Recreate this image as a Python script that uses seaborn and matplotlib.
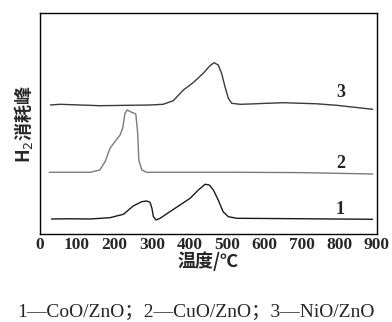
import numpy as np
import pandas as pd
import matplotlib
matplotlib.use("Agg")
import matplotlib.pyplot as plt
import seaborn as sns

# Curve 1: CoO/ZnO
t1 = [32, 80, 135, 188, 224, 250, 273, 286, 295, 300, 304, 311, 322, 348, 375, 402, 424, 442, 453, 464, 477, 490, 504, 526, 606, 784, 889]
y1 = [15.3, 15.5, 15.3, 16.6, 20.0, 28.3, 32.6, 33.3, 32.0, 26.0, 17.6, 14.3, 16.0, 22.6, 29.3, 36.0, 44.3, 50.0, 49.3, 44.3, 34.3, 22.6, 17.6, 16.0, 15.8, 15.3, 15.0]
# Curve 2: CuO/ZnO
t2 = [26, 80, 135, 161, 175, 188, 201, 215, 222, 228, 234, 246, 257, 262, 265, 273, 286, 322, 517, 695, 889]
y2 = [62.0, 62.0, 62.0, 64.3, 72.6, 86.0, 92.6, 99.3, 106.0, 121.0, 124.3, 122.0, 120.3, 101.0, 74.3, 64.3, 62.0, 62.0, 62.0, 61.7, 60.3]
# Curve 3: NiO/ZnO
t3 = [29, 55, 161, 295, 330, 357, 384, 410, 437, 455, 466, 477, 486, 495, 504, 513, 535, 562, 606, 651, 740, 793, 889]
y3 = [129.3, 130.0, 128.6, 129.3, 130.0, 133.6, 144.3, 151.6, 161.0, 168.6, 171.6, 169.3, 161.0, 147.6, 136.0, 131.0, 130.0, 130.3, 131.0, 131.6, 130.5, 129.0, 125.0]

curve_labels = ["1", "2", "3"]
label_y = [25, 71, 142]
xticks = [0, 100, 200, 300, 400, 500, 600, 700, 800, 900]
caption = "1—CoO/ZnO；2—CuO/ZnO；3—NiO/ZnO"

df = pd.concat([
    pd.DataFrame({"T": t1, "v": y1, "s": "1"}),
    pd.DataFrame({"T": t2, "v": y2, "s": "2"}),
    pd.DataFrame({"T": t3, "v": y3, "s": "3"}),
])

sns.set_theme(style="white")
plt.rcParams["font.family"] = ["Liberation Serif", "Noto Sans CJK SC", "DejaVu Sans"]

fig = plt.figure(figsize=(3.92, 3.22), dpi=100)
ax = fig.add_axes([0.1008, 0.2724, 0.8602, 0.6863])

pal = {"1": "#1a1a1a", "2": "#7a7a7a", "3": "#3a3a3a"}
sns.lineplot(data=df, x="T", y="v", hue="s", palette=pal, sort=False,
             estimator=None, linewidth=1.0, legend=False, ax=ax)

ax.set_xlim(0, 900)
ax.set_ylim(0, 221)
ax.set_xticks(xticks)
ax.set_xticklabels([str(v) for v in xticks], fontweight="bold", fontsize=12.5,
                   family=["Liberation Serif"])
ax.set_yticks([])
ax.tick_params(axis="x", direction="in", length=4, width=1, color="black", pad=2)
for sp in ax.spines.values():
    sp.set_color("black")
    sp.set_linewidth(1.0)

for lab, ly in zip(curve_labels, label_y):
    ax.text(803, ly, lab, fontsize=13, ha="center", va="center",
            fontweight="bold", family=["Liberation Serif"])

ax.set_xlabel("温度/℃", family=["Noto Sans CJK SC", "DejaVu Sans"],
              fontsize=13, fontweight="bold", labelpad=-1)
ax.set_ylabel("H$_2$消耗峰", family=["Noto Sans CJK SC", "DejaVu Sans"],
              fontsize=13, fontweight="bold", labelpad=3)

fig.text(0.5, 1 - 312 / 322, caption, ha="center", va="center",
         fontsize=14, family=["Liberation Serif", "Noto Sans CJK SC"])

fig.savefig("out.png", dpi=100)
